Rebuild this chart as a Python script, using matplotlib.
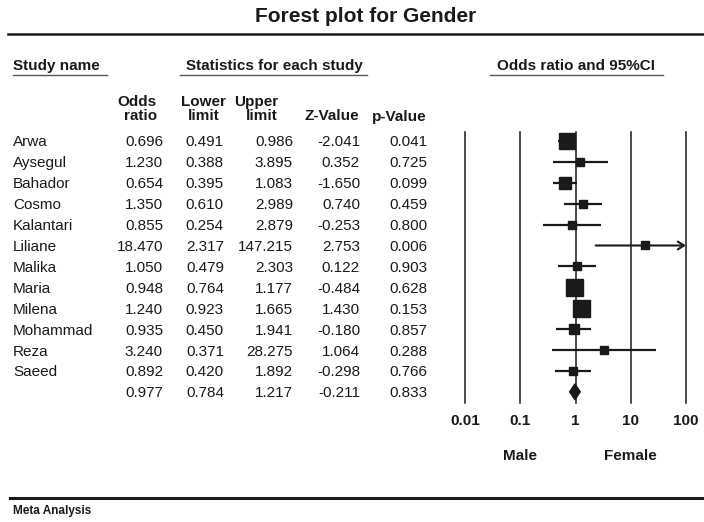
import matplotlib
matplotlib.use("Agg")
import matplotlib.pyplot as plt
import numpy as np
from matplotlib.lines import Line2D
from matplotlib.patches import Polygon
from matplotlib.transforms import blended_transform_factory

plt.rcParams['font.family'] = ['Liberation Sans', 'DejaVu Sans']

# ---- donnees ----
studies = ['Arwa', 'Aysegul', 'Bahador', 'Cosmo', 'Kalantari', 'Liliane',
           'Malika', 'Maria', 'Milena', 'Mohammad', 'Reza', 'Saeed']
odds = [0.696, 1.230, 0.654, 1.350, 0.855, 18.470, 1.050, 0.948, 1.240, 0.935, 3.240, 0.892]
lower = [0.491, 0.388, 0.395, 0.610, 0.254, 2.317, 0.479, 0.764, 0.923, 0.450, 0.371, 0.420]
upper = [0.986, 3.895, 1.083, 2.989, 2.879, 147.215, 2.303, 1.177, 1.665, 1.941, 28.275, 1.892]
z_vals = [-2.041, 0.352, -1.650, 0.740, -0.253, 2.753, 0.122, -0.484, 1.430, -0.180, 1.064, -0.298]
p_vals = [0.041, 0.725, 0.099, 0.459, 0.800, 0.006, 0.903, 0.628, 0.153, 0.857, 0.288, 0.766]

summary = [0.977, 0.784, 1.217, -0.211, 0.833]   # OR, lower, upper, Z, p

ticks = [0.01, 0.1, 1, 10, 100]
tick_labels = ['0.01', '0.1', '1', '10', '100']
side_labels = ['Male', 'Female']

# ---- mise en page (pixels de l'image 704x522) ----
W, H = 704, 522
def fx(px):
    return px / W
def fy(py):
    return 1 - py / H

ink = '#1a1a1a'
fig = plt.figure(figsize=(W / 100, H / 100), dpi=100)

# axe du forest plot : 0.01 -> 100 en x, une ligne par etude en y
row0, row_step = 141, 20.9
top_px, bot_px = 132, 403
ax = fig.add_axes([fx(465), fy(bot_px), fx(686) - fx(465), (bot_px - top_px) / H])
ax.set_xscale('log')
ax.set_xlim(ticks[0], ticks[-1])
n = len(studies)
ax.set_ylim((bot_px - row0) / row_step, (top_px - row0) / row_step)
for s in ax.spines.values():
    s.set_visible(False)
ax.set_yticks([])
ax.set_xticks(ticks)
ax.set_xticklabels(tick_labels, fontsize=11, fontweight='bold', color=ink)
ax.tick_params(axis='x', length=0, pad=8)
ax.minorticks_off()

for t in ticks:
    ax.axvline(t, color=ink, lw=1.1, clip_on=False, zorder=1)

# poids (inverse de la variance) -> taille des carres
log_se = (np.log(upper) - np.log(lower)) / 3.92
weights = 1 / log_se ** 2
sides = np.clip(4.6 * weights ** 0.35, 8, 17)

for i in range(n):
    hi = min(upper[i], ticks[-1])
    if upper[i] > ticks[-1]:
        ax.annotate('', xy=(hi, i), xytext=(lower[i], i),
                    arrowprops=dict(arrowstyle='->,head_length=0.45,head_width=0.28',
                                    lw=1.5, color=ink, shrinkA=0, shrinkB=0),
                    annotation_clip=False)
    else:
        ax.plot([lower[i], hi], [i, i], color=ink, lw=1.6, solid_capstyle='butt', zorder=2)
    ax.plot(odds[i], i, marker='s', ms=sides[i] * 0.72, color=ink, mec=ink, zorder=3)

# losange du resultat global
h = 0.38
diamond = Polygon([(summary[1], n), (summary[0], n - h), (summary[2], n), (summary[0], n + h)],
                  closed=True, color=ink, zorder=3)
ax.add_patch(diamond)

# Male / Female sous l'axe
trans_lbl = blended_transform_factory(ax.transData, fig.transFigure)
ax.text(ticks[1], fy(456), side_labels[0], transform=trans_lbl, ha='center', va='center',
        fontsize=11, fontweight='bold', color=ink)
ax.text(ticks[3], fy(456), side_labels[1], transform=trans_lbl, ha='center', va='center',
        fontsize=11, fontweight='bold', color=ink)

# ---- tableau a gauche ----
trans_row = blended_transform_factory(fig.transFigure, ax.transData)
col_right = [163, 224, 293, 360, 427]
for i in range(n):
    ax.text(fx(13), i, studies[i], transform=trans_row, ha='left', va='center_baseline',
            fontsize=11, color=ink, clip_on=False)
    vals = [odds[i], lower[i], upper[i], z_vals[i], p_vals[i]]
    for c, v in zip(col_right, vals):
        ax.text(fx(c), i, f'{v:.3f}', transform=trans_row, ha='right', va='center_baseline',
                fontsize=11, color=ink, clip_on=False)
for c, v in zip(col_right, summary):
    ax.text(fx(c), n, f'{v:.3f}', transform=trans_row, ha='right', va='center_baseline',
            fontsize=11, color=ink, clip_on=False)

# en-tetes de colonnes
hdr = dict(fontsize=11, fontweight='bold', color=ink, va='center_baseline')
fig.text(fx(157), fy(100), 'Odds', ha='right', **hdr)
fig.text(fx(157), fy(115), 'ratio', ha='right', **hdr)
fig.text(fx(203.5), fy(100), 'Lower', ha='center', **hdr)
fig.text(fx(203.5), fy(115), 'limit', ha='center', **hdr)
fig.text(fx(278), fy(100), 'Upper', ha='right', **hdr)
fig.text(fx(278), fy(115), 'limit', ha='right', **hdr)
fig.text(fx(359), fy(115), 'Z-Value', ha='right', **hdr)
fig.text(fx(427), fy(115), 'p-Value', ha='right', **hdr)

# titres de sections soulignes
fig.text(fx(13), fy(65), 'Study name', ha='left', **hdr)
fig.text(fx(274.5), fy(65), 'Statistics for each study', ha='center', **hdr)
fig.text(fx(576), fy(65), 'Odds ratio and 95%CI', ha='center', **hdr)
for x0, x1 in [(13, 107), (180, 367), (490, 663)]:
    fig.add_artist(Line2D([fx(x0), fx(x1)], [fy(75), fy(75)], color='#555555', lw=1.0))

# titre et filets
fig.text(fx(366), fy(17), 'Forest plot for Gender', ha='center', va='center',
         fontsize=15, fontweight='bold', color=ink)
fig.add_artist(Line2D([fx(8), 1], [fy(34), fy(34)], color=ink, lw=1.8))
fig.add_artist(Line2D([fx(10), 1], [fy(498), fy(498)], color=ink, lw=2.2))
fig.text(fx(13), fy(511), 'Meta Analysis', ha='left', va='center',
         fontsize=8.5, fontweight='bold', color=ink)

fig.savefig('out.png', dpi=100)
